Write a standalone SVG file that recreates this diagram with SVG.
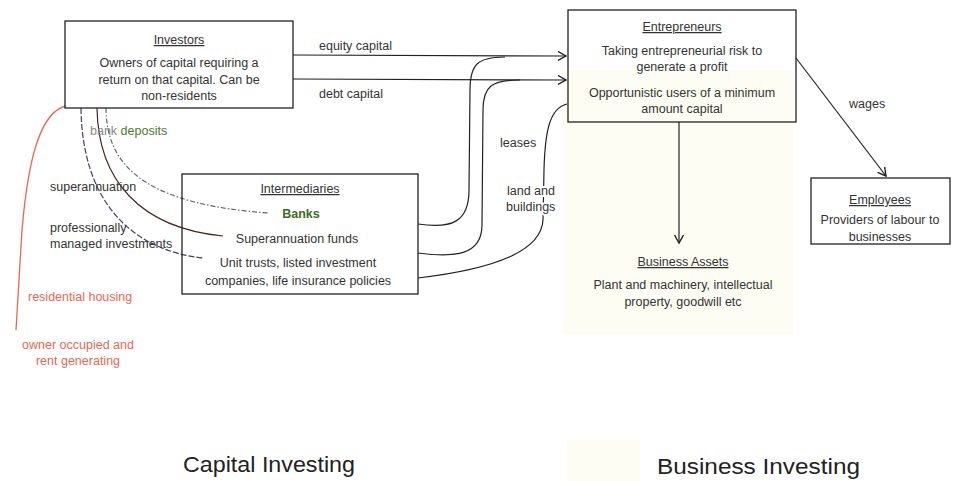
<svg xmlns="http://www.w3.org/2000/svg" width="957" height="481" viewBox="0 0 957 481">
<style>
text{font-family:"Liberation Sans",Arial,sans-serif;font-size:12.5px;fill:#333}
.c{text-anchor:middle}
.u{text-decoration:underline}
.box{fill:none;stroke:#222;stroke-width:1.3}
.ln{fill:none;stroke:#222;stroke-width:1.2}
.red{fill:#ec6654}
.halo{paint-order:stroke;stroke:#fff;stroke-width:4px;stroke-linejoin:round}
.big{font-size:22px;fill:#222}
.pale{fill:#fdfdf3}
</style>
<defs>
<marker id="ah" markerWidth="12" markerHeight="12" refX="9" refY="5" orient="auto" markerUnits="userSpaceOnUse">
<path d="M1,0.5 L9,5 L1,9.5" fill="none" stroke="#222" stroke-width="1.4"/>
</marker>
</defs>
<rect class="pale" x="563" y="70" width="230" height="265"/>
<rect class="pale" x="567" y="440" width="73" height="41"/>

<g id="connectors">
<path class="ln" d="M293,55 L566,56" marker-end="url(#ah)"/>
<path class="ln" d="M293,79 L566,80" marker-end="url(#ah)"/>
<path class="ln" d="M418,224 C452,229 469,222 469,190 L470,90 C470,64 478,57 505,57"/>
<path class="ln" d="M418,253 C455,258 482,255 482,225 L483,110 C483,86 492,80 520,80"/>
<path class="ln" d="M418,278 C470,272 541,258 543,220 L544,170 C545,130 550,108 567,104"/>
<path class="ln" d="M679,122 L679,243" marker-end="url(#ah)"/>
<path class="ln" d="M796,58 L886,176" marker-end="url(#ah)"/>
<path fill="none" stroke="#ec6654" stroke-width="1.3" d="M66,106 C40,112 28,160 22,230 L16,330"/>
<path fill="none" stroke="#666" stroke-width="1.2" stroke-dasharray="5 2 1.5 2" d="M106,108 C106,175 160,205 268,213"/>
<path fill="none" stroke="#4b2323" stroke-width="1.2" d="M97,108 C98,180 140,228 223,236"/>
<path fill="none" stroke="#4a3a6a" stroke-width="1.2" stroke-dasharray="6 2" d="M81,108 C82,200 130,250 203,258"/>
<text x="319" y="50">equity capital</text>
<text x="319" y="98">debt capital</text>
<text x="849" y="108">wages</text>
<text x="500" y="147" class="halo">leases</text>
<text x="507" y="195" class="halo">land and</text>
<text x="506" y="211" class="halo">buildings</text>
<text x="90" y="135"><tspan fill="#888">bank </tspan><tspan fill="#4a7a2a">deposits</tspan></text>
<text x="50" y="191" fill="#5a3030">superannuation</text>
<text x="50" y="232" fill="#666">professionally</text>
<text x="50" y="248" fill="#666">managed investments</text>
<text x="28" y="301" class="red">residential housing</text>
<text x="78" y="349" class="red c">owner occupied and</text>
<text x="78" y="365" class="red c">rent generating</text>
</g>

<g id="investors">
<rect class="box" x="65" y="21" width="228" height="87"/>
<text x="179" y="44" class="c u">Investors</text>
<text x="179" y="67" class="c">Owners of capital requiring a</text>
<text x="179" y="84" class="c">return on that capital. Can be</text>
<text x="179" y="100" class="c">non-residents</text>
</g>

<g id="entrepreneurs">
<rect class="box" x="568" y="10" width="228" height="112"/>
<text x="682" y="31" class="c u">Entrepreneurs</text>
<text x="682" y="55" class="c">Taking entrepreneurial risk to</text>
<text x="682" y="71" class="c">generate a profit</text>
<text x="682" y="97" class="c">Opportunistic users of a minimum</text>
<text x="682" y="113" class="c">amount capital</text>
</g>

<g id="employees">
<rect class="box" x="811" y="178" width="139" height="66"/>
<text x="880" y="204" class="c u">Employees</text>
<text x="880" y="224" class="c">Providers of labour to</text>
<text x="880" y="241" class="c">businesses</text>
</g>

<g id="business-assets">
<text x="683" y="266" class="c u">Business Assets</text>
<text x="683" y="289" class="c">Plant and machinery, intellectual</text>
<text x="683" y="306" class="c">property, goodwill etc</text>
</g>

<g id="intermediaries">
<rect class="box" x="182" y="174" width="236" height="120"/>
<text x="300" y="193" class="c u">Intermediaries</text>
<text x="301" y="218" class="c" style="fill:#3d6b1e;font-weight:bold">Banks</text>
<text x="297" y="243" class="c">Superannuation funds</text>
<text x="298" y="267" class="c">Unit trusts, listed investment</text>
<text x="298" y="285" class="c">companies, life insurance policies</text>
</g>

<g id="legend">
<text x="183" y="472" class="big" textLength="172" lengthAdjust="spacingAndGlyphs">Capital Investing</text>
<text x="657" y="474" class="big" textLength="203" lengthAdjust="spacingAndGlyphs">Business Investing</text>
</g>
</svg>
